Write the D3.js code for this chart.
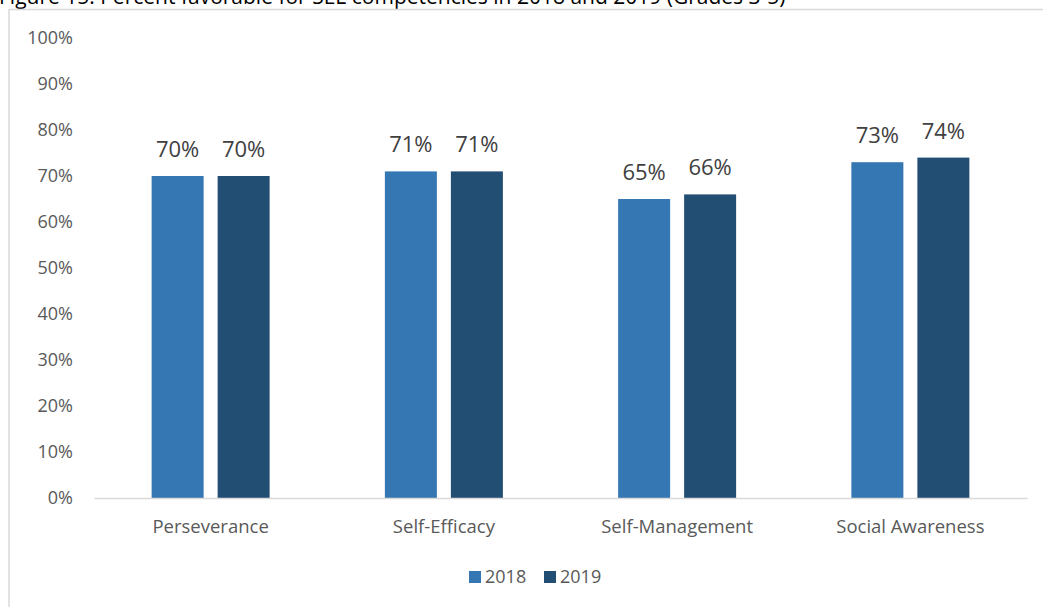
<!DOCTYPE html>
<html>
<head>
<meta charset="utf-8">
<script src="https://cdn.jsdelivr.net/npm/d3@7"></script>
<style>
  html, body { margin: 0; padding: 0; background: #fff; }
  svg { display: block; font-family: "Open Sans", "Noto Sans", sans-serif; }
</style>
</head>
<body>
<svg id="chart" width="1043" height="607"></svg>
<script>
// Percent favorable by SEL competency, 2018 vs 2019
const categories = ["Perseverance", "Self-Efficacy", "Self-Management", "Social Awareness"];
const years = ["2018", "2019"];
const values2018 = [70, 71, 65, 73];
const values2019 = [70, 71, 66, 74];
const yTicks = [0, 10, 20, 30, 40, 50, 60, 70, 80, 90, 100];
const titleText = "Figure 15: Percent favorable for SEL competencies in 2018 and 2019 (Grades 3-5)";

const colors = { "2018": "#3577b3", "2019": "#234e74" };
const seriesByYear = { "2018": values2018, "2019": values2019 };

const svg = d3.select("#chart");

// Caption sitting above the chart frame (its top runs past the page edge)
svg.append("text")
  .attr("x", -1)
  .attr("y", 4)
  .attr("font-size", 21)
  .attr("fill", "#000")
  .text(titleText);

// Chart frame
svg.append("rect")
  .attr("x", 9).attr("y", 9.5)
  .attr("width", 1100).attr("height", 700)
  .attr("fill", "#fff")
  .attr("stroke", "#d9d9d9")
  .attr("stroke-width", 1.5);

const plot = { left: 94, right: 1027, top: 38, bottom: 498 };

const y = d3.scaleLinear().domain([0, 100]).range([plot.bottom, plot.top]);

const x0 = d3.scaleBand()
  .domain(categories)
  .range([plot.left, plot.right])
  .padding(0);

const groupWidth = 118;
const x1 = d3.scaleBand()
  .domain(years)
  .range([(x0.bandwidth() - groupWidth) / 2, (x0.bandwidth() + groupWidth) / 2])
  .paddingInner(14 / 66)
  .paddingOuter(0);

// Y axis labels (no axis line, no gridlines)
const yAxis = d3.axisLeft(y)
  .tickValues(yTicks)
  .tickSize(0)
  .tickPadding(0)
  .tickFormat(d => d + "%");

svg.append("g")
  .attr("transform", `translate(${plot.left - 21},0)`)
  .call(yAxis)
  .call(g => g.select(".domain").remove())
  .selectAll("text")
  .attr("font-family", "'Open Sans', sans-serif")
  .attr("font-size", 18)
  .attr("fill", "#595959");

// Bars
const rows = categories.map((c, i) => ({
  category: c,
  items: years.map(yr => ({ year: yr, value: seriesByYear[yr][i] }))
}));

const groups = svg.append("g").selectAll("g")
  .data(rows)
  .join("g")
  .attr("transform", d => `translate(${x0(d.category)},0)`);

groups.selectAll("rect")
  .data(d => d.items)
  .join("rect")
  .attr("x", d => x1(d.year))
  .attr("y", d => y(d.value))
  .attr("width", x1.bandwidth())
  .attr("height", d => y(0) - y(d.value))
  .attr("fill", d => colors[d.year]);

groups.selectAll("text.value")
  .data(d => d.items)
  .join("text")
  .attr("class", "value")
  .attr("x", d => x1(d.year) + x1.bandwidth() / 2)
  .attr("y", d => y(d.value) - 19)
  .attr("text-anchor", "middle")
  .attr("font-size", 22)
  .attr("fill", "#404040")
  .text(d => d.value + "%");

// X axis
const xAxis = d3.axisBottom(x0).tickSize(0).tickPadding(0);
svg.append("g")
  .attr("transform", `translate(0,${plot.bottom})`)
  .call(xAxis)
  .call(g => g.select(".domain")
    .attr("stroke", "#d9d9d9")
    .attr("stroke-width", 1.5))
  .selectAll("text")
  .attr("font-family", "'Open Sans', sans-serif")
  .attr("font-size", 18.5)
  .attr("fill", "#595959")
  .attr("dy", null)
  .attr("y", 35);

// Legend
const legendItems = [
  { year: "2018", x: 469 },
  { year: "2019", x: 544 }
];
const legend = svg.append("g");
legendItems.forEach(item => {
  legend.append("rect")
    .attr("x", item.x).attr("y", 571)
    .attr("width", 12).attr("height", 12)
    .attr("fill", colors[item.year]);
  legend.append("text")
    .attr("x", item.x + 16).attr("y", 583)
    .attr("font-size", 18)
    .attr("fill", "#595959")
    .text(item.year);
});
</script>
</body>
</html>
